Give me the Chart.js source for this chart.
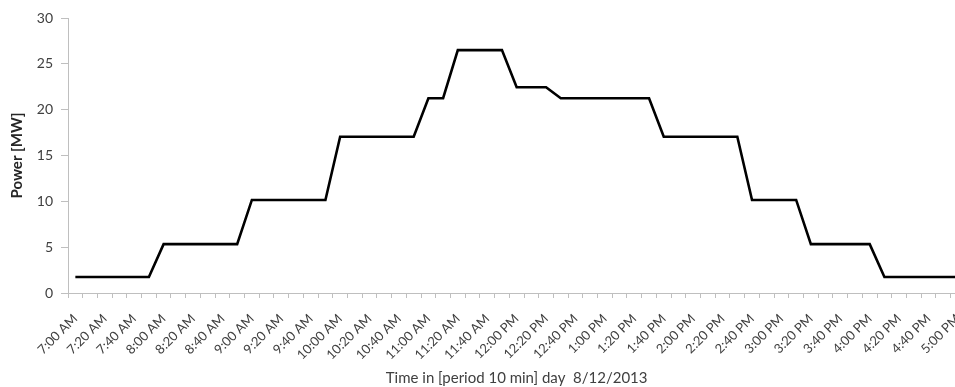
<!DOCTYPE html>
<html>
<head>
<meta charset="utf-8">
<script src="https://cdn.jsdelivr.net/npm/chart.js@4/dist/chart.umd.min.js"></script>
<style>
  html, body { margin: 0; padding: 0; background: #fff; }
  #wrap { width: 955px; height: 387px; overflow: hidden; }
</style>
</head>
<body>
<div id="wrap"><canvas id="powerChart" width="982" height="387"></canvas></div>
<script>
// 10-minute periods, 7:00 AM to 5:00 PM
const times = [
  '7:00 AM', '7:10 AM', '7:20 AM', '7:30 AM', '7:40 AM', '7:50 AM',
  '8:00 AM', '8:10 AM', '8:20 AM', '8:30 AM', '8:40 AM', '8:50 AM',
  '9:00 AM', '9:10 AM', '9:20 AM', '9:30 AM', '9:40 AM', '9:50 AM',
  '10:00 AM', '10:10 AM', '10:20 AM', '10:30 AM', '10:40 AM', '10:50 AM',
  '11:00 AM', '11:10 AM', '11:20 AM', '11:30 AM', '11:40 AM', '11:50 AM',
  '12:00 PM', '12:10 PM', '12:20 PM', '12:30 PM', '12:40 PM', '12:50 PM',
  '1:00 PM', '1:10 PM', '1:20 PM', '1:30 PM', '1:40 PM', '1:50 PM',
  '2:00 PM', '2:10 PM', '2:20 PM', '2:30 PM', '2:40 PM', '2:50 PM',
  '3:00 PM', '3:10 PM', '3:20 PM', '3:30 PM', '3:40 PM', '3:50 PM',
  '4:00 PM', '4:10 PM', '4:20 PM', '4:30 PM', '4:40 PM', '4:50 PM',
  '5:00 PM'
];

// Power [MW] per period
const power = [
  1.75, 1.75, 1.75, 1.75, 1.75, 1.75,
  5.33, 5.33, 5.33, 5.33, 5.33, 5.33,
  10.15, 10.15, 10.15, 10.15, 10.15, 10.15,
  17.05, 17.05, 17.05, 17.05, 17.05, 17.05,
  21.25, 21.25,
  26.5, 26.5, 26.5, 26.5,
  22.45, 22.45, 22.45,
  21.25, 21.25, 21.25, 21.25, 21.25, 21.25, 21.25,
  17.05, 17.05, 17.05, 17.05, 17.05, 17.05,
  10.15, 10.15, 10.15, 10.15,
  5.33, 5.33, 5.33, 5.33, 5.33,
  1.75, 1.75, 1.75, 1.75, 1.75, 1.75
];

const yTicks = [0, 5, 10, 15, 20, 25, 30];

const axisGray = '#bfbfbf';
const textGray = '#404040';
const fontFamily = 'Lato, "Open Sans", sans-serif';

const ctx = document.getElementById('powerChart');
const powerChart = new Chart(ctx, {
  type: 'line',
  data: {
    labels: times,
    datasets: [{
      label: 'Power [MW]',
      data: power,
      borderColor: '#000',
      borderWidth: 2.6,
      pointRadius: 0,
      tension: 0,
      fill: false
    }]
  },
  options: {
    responsive: false,
    animation: false,
    layout: { padding: { top: 18, left: 0, right: 0, bottom: 0 } },
    plugins: {
      legend: { display: false },
      tooltip: { enabled: false }
    },
    scales: {
      x: {
        offset: true,
        grid: {
          offset: true,
          drawOnChartArea: false,
          color: axisGray,
          tickLength: 5
        },
        border: { color: axisGray, width: 1 },
        ticks: {
          autoSkip: false,
          maxRotation: 45,
          minRotation: 45,
          padding: 13,
          color: textGray,
          font: { family: fontFamily, size: 13 },
          callback: (v, i) => (i % 2 === 0 ? times[i] : '')
        },
        title: {
          display: true,
          text: 'Time in [period 10 min] day  8/12/2013',
          color: textGray,
          font: { family: fontFamily, size: 15 },
          padding: { top: 0, bottom: 0 }
        },
        afterFit: (scale) => { scale.height = 94; }
      },
      y: {
        min: 0,
        max: 30,
        afterBuildTicks: (scale) => { scale.ticks = yTicks.map(v => ({ value: v })); },
        grid: {
          drawOnChartArea: false,
          color: axisGray,
          tickLength: 7
        },
        border: { color: axisGray, width: 1 },
        ticks: {
          padding: 8,
          color: textGray,
          font: { family: fontFamily, size: 14 }
        },
        title: {
          display: true,
          text: 'Power [MW]',
          color: '#262626',
          font: { family: fontFamily, size: 15, weight: 'bold' },
          padding: { top: 8, bottom: 0 }
        },
        afterFit: (scale) => { scale.width = 68; }
      }
    }
  }
});
</script>
</body>
</html>
